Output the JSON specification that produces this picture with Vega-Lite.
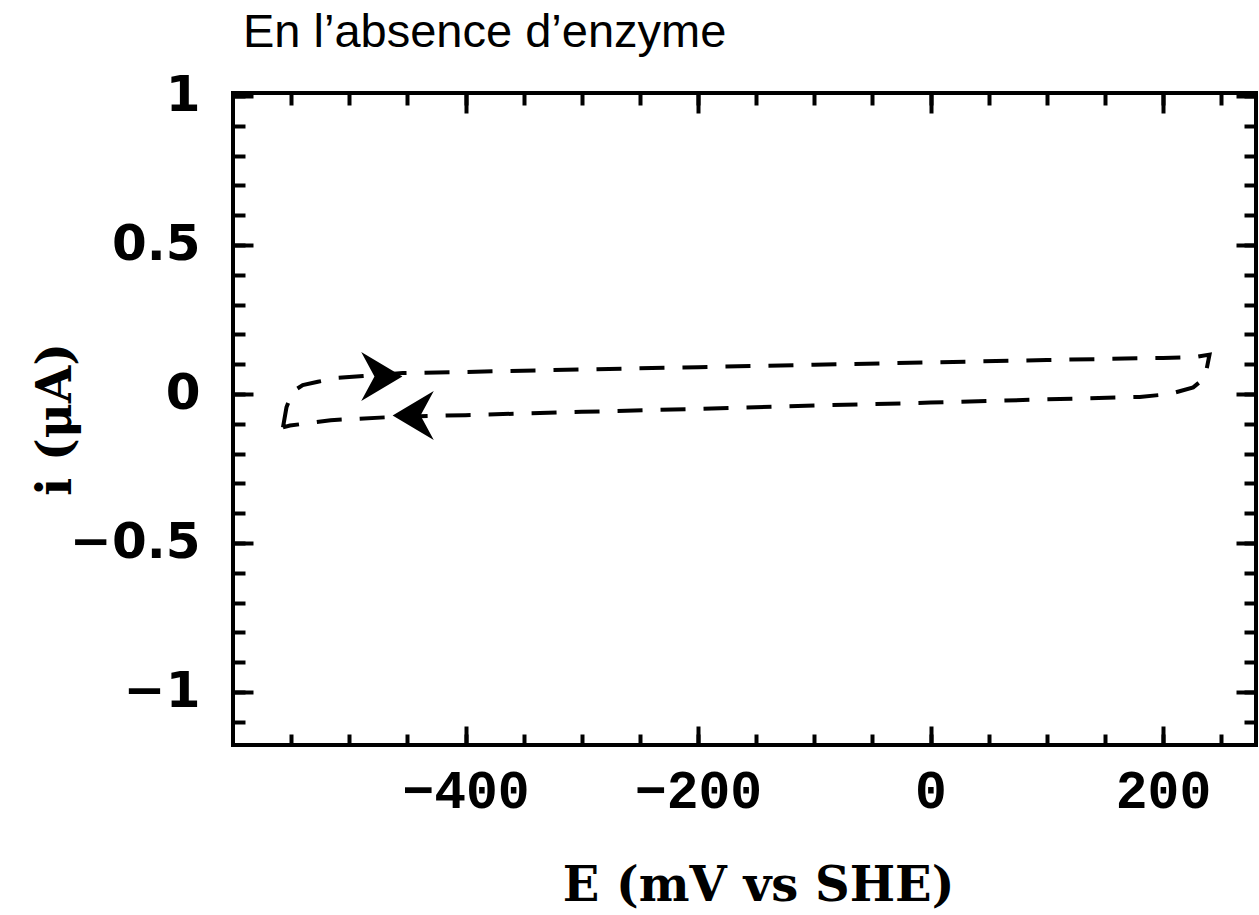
{
  "$schema": "https://vega.github.io/schema/vega-lite/v6.json",
  "width": 1023,
  "height": 652,
  "autosize": "none",
  "padding": {"left": 233, "top": 93, "right": 3, "bottom": 170},
  "background": "white",
  "title": {
    "text": "En l’absence d’enzyme",
    "anchor": "start",
    "frame": "group",
    "font": "Liberation Sans",
    "fontSize": 47,
    "fontWeight": "normal",
    "color": "black",
    "baseline": "alphabetic",
    "offset": -23,
    "dx": 10
  },
  "datasets": {
    "cv": [
      {"o": 1, "E": -557, "i": -0.112},
      {"o": 2, "E": -554, "i": -0.045},
      {"o": 3, "E": -549, "i": 0.007},
      {"o": 4, "E": -540, "i": 0.030},
      {"o": 5, "E": -527, "i": 0.041},
      {"o": 6, "E": -510, "i": 0.054},
      {"o": 7, "E": -488, "i": 0.060},
      {"o": 8, "E": -454, "i": 0.070},
      {"o": 9, "E": -400, "i": 0.074},
      {"o": 10, "E": -300, "i": 0.082},
      {"o": 11, "E": -200, "i": 0.090},
      {"o": 12, "E": -100, "i": 0.098},
      {"o": 13, "E": 0, "i": 0.106},
      {"o": 14, "E": 100, "i": 0.114},
      {"o": 15, "E": 200, "i": 0.121},
      {"o": 16, "E": 228, "i": 0.124},
      {"o": 17, "E": 240, "i": 0.132},
      {"o": 18, "E": 236, "i": 0.054},
      {"o": 19, "E": 226, "i": 0.022},
      {"o": 20, "E": 206, "i": 0.000},
      {"o": 21, "E": 180, "i": -0.010},
      {"o": 22, "E": 100, "i": -0.018},
      {"o": 23, "E": 0, "i": -0.029},
      {"o": 24, "E": -100, "i": -0.039},
      {"o": 25, "E": -200, "i": -0.050},
      {"o": 26, "E": -300, "i": -0.060},
      {"o": 27, "E": -400, "i": -0.071},
      {"o": 28, "E": -462, "i": -0.077},
      {"o": 29, "E": -516, "i": -0.088},
      {"o": 30, "E": -551, "i": -0.106},
      {"o": 31, "E": -557, "i": -0.112}
    ],
    "arrows": [
      {"E": -472, "i": 0.059, "dir": "right"},
      {"E": -445, "i": -0.072, "dir": "left"}
    ]
  },
  "config": {
    "view": {"stroke": "black", "strokeWidth": 4},
    "axis": {
      "grid": false,
      "domain": false,
      "tickColor": "black",
      "tickWidth": 4,
      "labelColor": "black",
      "titleColor": "black"
    }
  },
  "resolve": {"axis": {"x": "independent", "y": "independent"}},
  "layer": [
    {
      "data": {"name": "cv"},
      "mark": {"type": "line", "color": "black", "strokeWidth": 4, "strokeDash": [25, 18], "strokeCap": "butt"},
      "encoding": {
        "x": {
          "field": "E", "type": "quantitative",
          "scale": {"domain": [-600, 280], "nice": false, "zero": false},
          "axis": {
            "orient": "bottom", "values": [-400, -200, 0, 200], "format": "d", "ticks": false,
            "labelFont": "Liberation Mono", "labelFontWeight": "bold", "labelFontSize": 53,
            "labelPadding": 62, "labelBaseline": "alphabetic", "labelFlush": false, "labelOverlap": false,
            "title": "E (mV vs SHE)", "titleFont": "DejaVu Serif", "titleFontWeight": "bold", "titleFontSize": 48,
            "titleBaseline": "alphabetic", "titleAlign": "center", "titleX": 525, "titleY": 155
          }
        },
        "y": {
          "field": "i", "type": "quantitative",
          "scale": {"domain": [-1.178, 1.01], "nice": false, "zero": false},
          "axis": {
            "orient": "left", "values": [-1, -0.5, 0, 0.5, 1], "format": ".1~f", "ticks": false,
            "labelFont": "DejaVu Sans", "labelFontWeight": "bold", "labelFontSize": 50,
            "labelPadding": 33, "labelFlush": false, "labelOverlap": false,
            "title": "i (μA)", "titleFont": "DejaVu Serif", "titleFontWeight": "bold", "titleFontSize": 48,
            "titleAngle": -90, "titleBaseline": "alphabetic", "titleAlign": "center", "titleX": -163, "titleY": 326
          }
        },
        "order": {"field": "o", "type": "quantitative"}
      }
    },
    {
      "data": {"name": "arrows"},
      "mark": {"type": "point", "filled": true, "color": "black", "opacity": 1, "size": 2400, "strokeWidth": 0},
      "encoding": {
        "x": {
          "field": "E", "type": "quantitative",
          "scale": {"domain": [-600, 280], "nice": false, "zero": false},
          "axis": {"orient": "bottom", "values": [-550, -500, -450, -400, -350, -300, -250, -200, -150, -100, -50, 0, 50, 100, 150, 200, 250], "labels": false, "tickSize": -11, "title": null}
        },
        "y": {
          "field": "i", "type": "quantitative",
          "scale": {"domain": [-1.178, 1.01], "nice": false, "zero": false},
          "axis": {"orient": "left", "values": [-1.1, -1, -0.9, -0.8, -0.7, -0.6, -0.5, -0.4, -0.3, -0.2, -0.1, 0, 0.1, 0.2, 0.3, 0.4, 0.5, 0.6, 0.7, 0.8, 0.9, 1], "labels": false, "tickSize": -12, "title": null}
        },
        "shape": {
          "field": "dir", "type": "nominal",
          "scale": {"domain": ["right", "left"], "range": ["M0.84,0L-0.84,-1L-0.3,0L-0.84,1Z", "M-0.84,0L0.84,-1L0.3,0L0.84,1Z"]},
          "legend": null
        }
      }
    },
    {
      "data": {"name": "arrows"},
      "mark": {"type": "point", "opacity": 0},
      "encoding": {
        "x": {
          "field": "E", "type": "quantitative",
          "scale": {"domain": [-600, 280], "nice": false, "zero": false},
          "axis": {"orient": "bottom", "values": [-400, -200, 0, 200], "labels": false, "tickSize": -19, "title": null}
        },
        "y": {
          "field": "i", "type": "quantitative",
          "scale": {"domain": [-1.178, 1.01], "nice": false, "zero": false},
          "axis": {"orient": "left", "values": [-1, -0.5, 0, 0.5, 1], "labels": false, "tickSize": -20, "title": null}
        }
      }
    },
    {
      "data": {"name": "arrows"},
      "mark": {"type": "point", "opacity": 0},
      "encoding": {
        "x": {
          "field": "E", "type": "quantitative",
          "scale": {"domain": [-600, 280], "nice": false, "zero": false},
          "axis": {"orient": "top", "values": [-550, -500, -450, -400, -350, -300, -250, -200, -150, -100, -50, 0, 50, 100, 150, 200, 250], "labels": false, "tickSize": -12, "title": null}
        },
        "y": {
          "field": "i", "type": "quantitative",
          "scale": {"domain": [-1.178, 1.01], "nice": false, "zero": false},
          "axis": {"orient": "right", "values": [-1.1, -1, -0.9, -0.8, -0.7, -0.6, -0.5, -0.4, -0.3, -0.2, -0.1, 0, 0.1, 0.2, 0.3, 0.4, 0.5, 0.6, 0.7, 0.8, 0.9, 1], "labels": false, "tickSize": -12, "title": null}
        }
      }
    },
    {
      "data": {"name": "arrows"},
      "mark": {"type": "point", "opacity": 0},
      "encoding": {
        "x": {
          "field": "E", "type": "quantitative",
          "scale": {"domain": [-600, 280], "nice": false, "zero": false},
          "axis": {"orient": "top", "values": [-400, -200, 0, 200], "labels": false, "tickSize": -20, "title": null}
        },
        "y": {
          "field": "i", "type": "quantitative",
          "scale": {"domain": [-1.178, 1.01], "nice": false, "zero": false},
          "axis": {"orient": "right", "values": [-1, -0.5, 0, 0.5, 1], "labels": false, "tickSize": -20, "title": null}
        }
      }
    }
  ]
}
